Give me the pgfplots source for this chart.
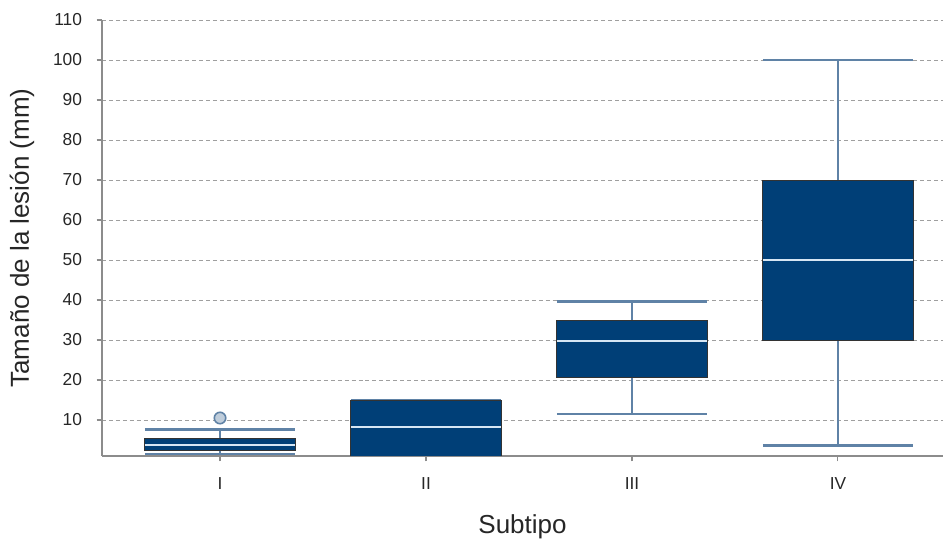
\documentclass[border=0pt]{standalone}
\usepackage{pgfplots}
\pgfplotsset{compat=1.18}
\usepgfplotslibrary{statistics}
\usepackage{fontspec}
\setmainfont{Liberation Sans}
\definecolor{boxblue}{HTML}{003F77}
\definecolor{whisk}{HTML}{5F82A6}
\definecolor{medc}{HTML}{D6E6F4}
\definecolor{axc}{HTML}{8C8C8C}
\begin{document}
\begin{tikzpicture}
\useasboundingbox (-76.5pt,-64.5pt) rectangle (630.75pt,342pt);
\begin{axis}[
  scale only axis,
  width=630.75pt, height=327pt,
  xmin=-0.573, xmax=3.51,
  ymin=1, ymax=110,
  axis x line*=bottom, axis y line*=left,
  axis line style={-, draw=axc, line width=1pt},
  xtick={0,1,2,3}, xticklabels={I,II,III,IV},
  ytick={10,20,30,40,50,60,70,80,90,100,110},
  tick align=outside,
  major tick length=4pt,
  tick style={draw=axc, line width=0.8pt},
  ymajorgrids,
  major grid style={draw=gray!75, line width=0.7pt, dash pattern=on 3pt off 2.2pt},
  /pgf/number format/assume math mode=true,
  ticklabel style={font=\fontsize{13}{15}\selectfont, text=black!85},
  yticklabel style={xshift=-7.5pt},
  xticklabel style={yshift=-9pt},
  label style={font=\fontsize{19.5}{23}\selectfont, text=black!85},
  xlabel={Subtipo},
  ylabel={Tamaño de la lesión (mm)},
  xlabel style={at={(axis description cs:0.5,0)}, anchor=center, yshift=-53pt},
  ylabel style={at={(axis description cs:-0.0951,0.5)}, anchor=center},
  boxplot/draw direction=y,
  boxplot/box extend=0.73,
  boxplot/whisker extend=0.73,
  boxplot/every box/.style={draw=black!80, line width=0.6pt, fill=boxblue},
  boxplot/every whisker/.style={draw=whisk, line width=2.1pt, fill=none},
  boxplot/every median/.style={draw=medc, line width=1.5pt},
]
\addplot[boxplot prepared={lower whisker=1.5, lower quartile=2.3, median=3.8, upper quartile=5.4, upper whisker=7.7, draw position=0},
  mark=*, mark size=4.3pt, mark options={draw=whisk, fill=whisk!40, line width=1.2pt}]
  coordinates {(0,10.5)};
\addplot[boxplot prepared={lower whisker=1, lower quartile=1, median=8.2, upper quartile=15, upper whisker=15, draw position=1}]
  coordinates {};
\addplot[boxplot prepared={lower whisker=11.5, lower quartile=20.6, median=29.8, upper quartile=34.9, upper whisker=39.6, draw position=2}]
  coordinates {};
\addplot[boxplot prepared={lower whisker=3.7, lower quartile=30, median=50, upper quartile=70, upper whisker=100, draw position=3}]
  coordinates {};
\end{axis}
\end{tikzpicture}
\end{document}
